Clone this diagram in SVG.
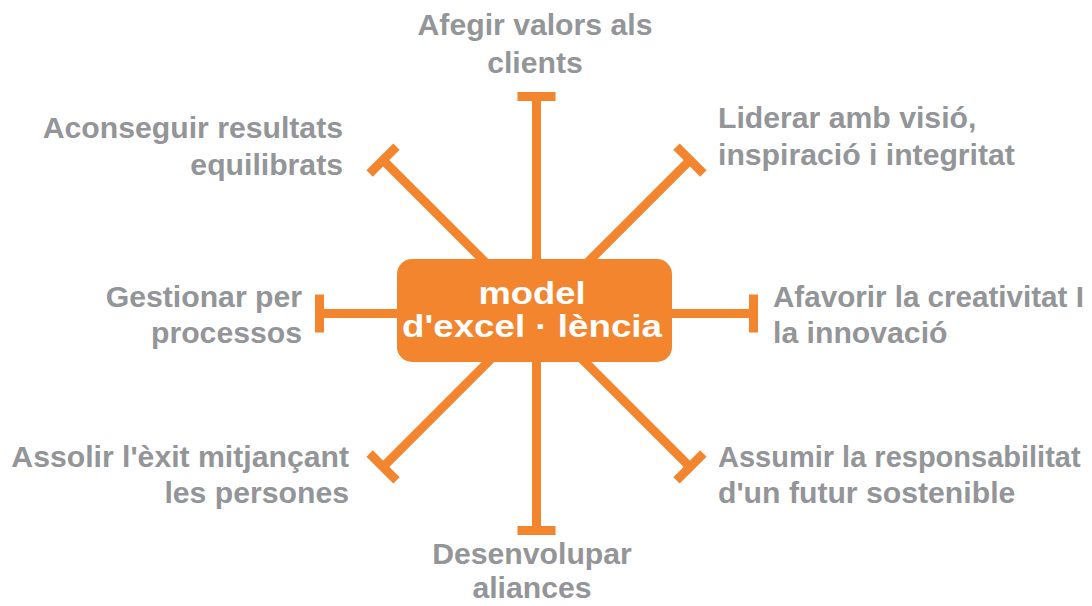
<svg xmlns="http://www.w3.org/2000/svg" xmlns:xlink="http://www.w3.org/1999/xlink" width="1092" height="606" viewBox="0 0 1092 606">
<style>
.lbl{font-family:"Liberation Sans",Arial,sans-serif;font-weight:bold;font-size:30.2px;fill:#939598}
.ctr{font-family:"Liberation Sans",Arial,sans-serif;font-weight:bold;font-size:32px;fill:#ffffff;text-anchor:middle}
.arm{stroke:#F3852F;stroke-width:9;fill:none}
</style>
<defs>
<g id="armShape">
<line class="arm" x1="536.5" y1="313.5" x2="536.5" y2="96.5"/>
<line class="arm" x1="517.5" y1="96.5" x2="555.5" y2="96.5"/>
</g>
</defs>
<rect width="1092" height="606" fill="#ffffff"/>
<g id="connectors">
<use xlink:href="#armShape"/>
<use xlink:href="#armShape" transform="rotate(45 536.5 313.5)"/>
<use xlink:href="#armShape" transform="rotate(90 536.5 313.5)"/>
<use xlink:href="#armShape" transform="rotate(135 536.5 313.5)"/>
<use xlink:href="#armShape" transform="rotate(180 536.5 313.5)"/>
<use xlink:href="#armShape" transform="rotate(225 536.5 313.5)"/>
<use xlink:href="#armShape" transform="rotate(270 536.5 313.5)"/>
<use xlink:href="#armShape" transform="rotate(315 536.5 313.5)"/>
</g>
<g id="center">
<rect x="397" y="259" width="275" height="103" rx="15" fill="#F3852F"/>
<text class="ctr" x="532" y="304" textLength="107" lengthAdjust="spacingAndGlyphs">model</text>
<text class="ctr" x="532" y="337" textLength="260" lengthAdjust="spacingAndGlyphs">d'excel · lència</text>
</g>
<g id="n-top"><text class="lbl" text-anchor="middle" x="535" y="35">Afegir valors als</text><text class="lbl" text-anchor="middle" x="535" y="73">clients</text></g>
<g id="n-topleft"><text class="lbl" text-anchor="end" x="343" y="138">Aconseguir resultats</text><text class="lbl" text-anchor="end" x="343" y="175">equilibrats</text></g>
<g id="n-topright"><text class="lbl" x="718" y="128">Liderar amb visió,</text><text class="lbl" x="718" y="165">inspiració i integritat</text></g>
<g id="n-left"><text class="lbl" text-anchor="end" x="302" y="307">Gestionar per</text><text class="lbl" text-anchor="end" x="302" y="343">processos</text></g>
<g id="n-right"><text class="lbl" x="773" y="307" style="font-size:29.6px">Afavorir la creativitat I</text><text class="lbl" x="773" y="343">la innovació</text></g>
<g id="n-bottomleft"><text class="lbl" text-anchor="end" x="349" y="467">Assolir l'èxit mitjançant</text><text class="lbl" text-anchor="end" x="349" y="503">les persones</text></g>
<g id="n-bottomright"><text class="lbl" x="718" y="467" style="font-size:29px">Assumir la responsabilitat</text><text class="lbl" x="718" y="503">d'un futur sostenible</text></g>
<g id="n-bottom"><text class="lbl" text-anchor="middle" x="532" y="564">Desenvolupar</text><text class="lbl" text-anchor="middle" x="532" y="598">aliances</text></g>
</svg>
